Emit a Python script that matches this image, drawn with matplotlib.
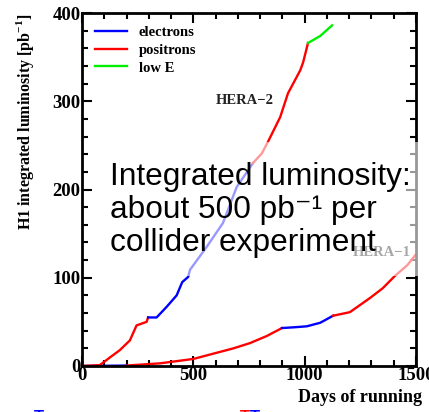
import matplotlib
matplotlib.use("Agg")
import matplotlib.pyplot as plt
from matplotlib.ticker import MultipleLocator
from matplotlib.patches import Rectangle

# HERA-2 run segments (days, integrated luminosity pb^-1)
h2_pos1_days = [0, 80, 127, 170, 215, 245, 290, 297]
h2_pos1_lumi = [0, 1, 10, 18, 29, 46, 50, 55]
h2_ele_days = [297, 335, 380, 425, 450, 477, 485, 560, 633, 695, 725, 768]
h2_ele_lumi = [55, 55, 67, 80, 95, 101, 109, 135, 162, 203, 214, 230]
h2_pos2_days = [768, 808, 835, 890, 925, 980, 993, 1015]
h2_pos2_lumi = [230, 241, 254, 282, 309, 335, 344, 366]
h2_low_days = [1015, 1070, 1123]
h2_low_lumi = [366, 374, 386]

# HERA-1 run segments
h1_ele_days = [0, 200]
h1_ele_lumi = [0, 0.5]
h1_pos1_days = [200, 350, 500, 530, 620, 680, 755, 830, 898]
h1_pos1_lumi = [0.5, 3, 8, 10, 16, 20, 26, 34, 43]
h1_ele2_days = [898, 960, 1010, 1070, 1128]
h1_ele2_lumi = [43, 44, 45, 49, 57]
h1_pos2_days = [1128, 1203, 1293, 1350, 1405, 1460, 1530]
h1_pos2_lumi = [57, 61, 77, 88, 102, 114, 136]

x_ticks = [0, 500, 1000, 1500]
y_ticks = [0, 100, 200, 300, 400]

serif = ["Liberation Serif", "DejaVu Serif"]
sans = ["Liberation Sans", "DejaVu Sans"]
fig = plt.figure(figsize=(4.29, 4.12), dpi=100)
ax = fig.add_axes([82/429, 1-366/412, 334/429, 353/412])

RED, BLUE, GREEN = "#ff0000", "#0000ff", "#00ee00"
lw = 1.7
ax.plot(h1_ele_days, h1_ele_lumi, color=BLUE, lw=lw)
ax.plot(h1_pos1_days, h1_pos1_lumi, color=RED, lw=lw)
ax.plot(h1_ele2_days, h1_ele2_lumi, color=BLUE, lw=lw)
ax.plot(h1_pos2_days, h1_pos2_lumi, color=RED, lw=lw)
ax.plot(h2_pos1_days, h2_pos1_lumi, color=RED, lw=lw)
ax.plot(h2_ele_days, h2_ele_lumi, color=BLUE, lw=lw, label="electrons")
ax.plot(h2_pos2_days, h2_pos2_lumi, color=RED, lw=lw, label="positrons")
ax.plot(h2_low_days, h2_low_lumi, color=GREEN, lw=lw, label="low E")

ax.set_xlim(0, 1500)
ax.set_ylim(0, 400)
ax.set_xticks(x_ticks)
ax.set_yticks(y_ticks)
ax.xaxis.set_minor_locator(MultipleLocator(100))
ax.yaxis.set_minor_locator(MultipleLocator(20))
ax.tick_params(which="both", direction="in", top=True, right=True, width=1.5)
ax.tick_params(which="major", length=7)
ax.tick_params(which="minor", length=4)
for s in ax.spines.values():
    s.set_linewidth(2)
for lab in ax.get_xticklabels() + ax.get_yticklabels():
    lab.set_fontfamily(serif)
    lab.set_fontweight("bold")
    lab.set_fontsize(13.5)
ax.tick_params(axis="x", pad=1)
ax.tick_params(axis="y", pad=1)

fig.text(25/429, 1-122/412, "H1 integrated luminosity [pb$^{\\mathregular{-1}}$]", rotation=90,
         ha="center", va="center", fontfamily=serif, fontweight="bold", fontsize=11.5)
fig.text(422/429, 1-398/412, "Days of running", ha="right", va="center",
         fontfamily=serif, fontweight="bold", fontsize=13)

leg = ax.legend(loc="upper left", frameon=False, prop={"family": serif, "weight": "bold", "size": 10.5},
                handlelength=2.2, labelspacing=0.3, borderaxespad=0.5, handletextpad=0.8)

ax.text(732, 301, "HERA−2", fontfamily=serif, fontweight="bold", fontsize=10.5,
        color="#222222", ha="center", va="center")
ax.text(1347, 129, "HERA−1", fontfamily=serif, fontweight="bold", fontsize=10.5,
        color="#222222", ha="center", va="center")

# overlay box with text
fig.patches.append(Rectangle((100/429, 1-276/412), 329/429, 134/412, transform=fig.transFigure,
                             facecolor="white", alpha=0.6, edgecolor="none", zorder=5))
fig.text(110/429, 1-251/412,
         "Integrated luminosity:\nabout 500 pb\u207b\u00b9 per\ncollider experiment",
         ha="left", va="baseline", fontfamily=sans,
         fontsize=22.8, linespacing=1.13, zorder=6, color="black")

# tops of the next slide line, cut by the bottom edge
fig.text(34/429, 1-410.5/412, "T", color=BLUE, fontfamily=sans, fontweight="bold",
         fontsize=12, ha="left", va="top")
fig.text(240/429, 1-410.5/412, "T", color=RED, fontfamily=sans, fontweight="bold",
         fontsize=12, ha="left", va="top")
fig.text(250/429, 1-410.5/412, "T", color=BLUE, fontfamily=sans, fontweight="bold",
         fontsize=12, ha="left", va="top")

fig.savefig("out.png", dpi=100)
